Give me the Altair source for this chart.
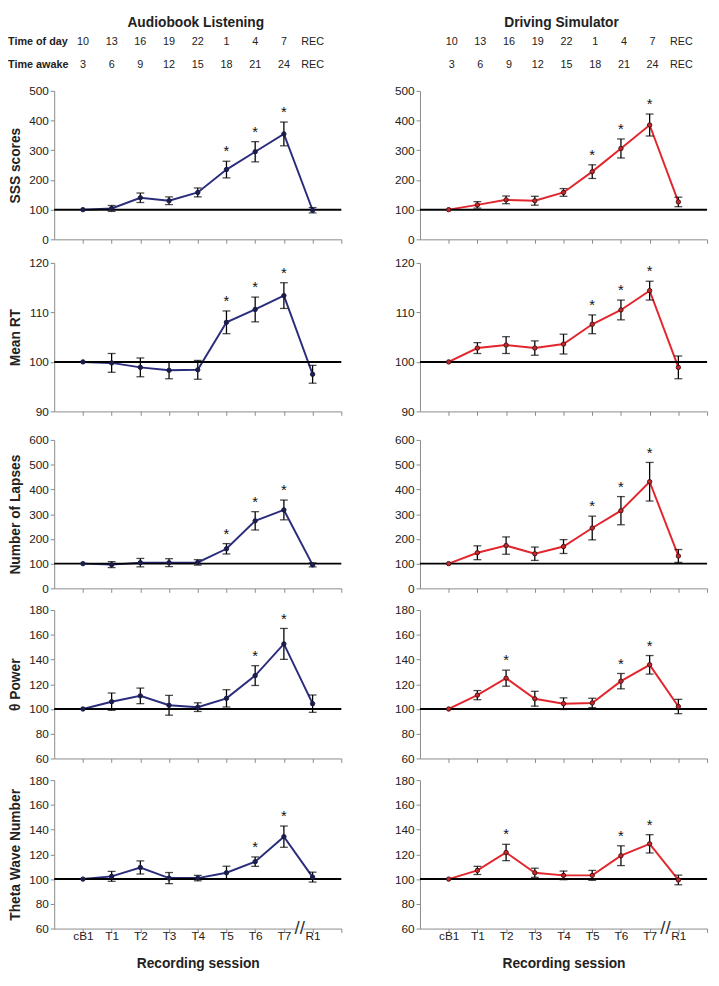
import json
import altair as alt
import pandas as pd

sessions = ["cB1", "T1", "T2", "T3", "T4", "T5", "T6", "T7", "R1"]
time_of_day = ["10", "13", "16", "19", "22", "1", "4", "7", "REC"]
time_awake = ["3", "6", "9", "12", "15", "18", "21", "24", "REC"]

# Audiobook listening
sss_a = [100, 104, 140, 130, 158, 235, 295, 355, 98]
sss_a_err = [0, 10, 16, 13, 15, 28, 34, 40, 9]
rt_a = [100, 99.8, 98.9, 98.3, 98.4, 108.0, 110.6, 113.4, 97.5]
rt_a_err = [0, 1.9, 1.9, 1.7, 1.9, 2.3, 2.5, 2.6, 1.8]
lap_a = [100, 96, 104, 104, 105, 160, 273, 317, 95]
lap_a_err = [0, 12, 17, 16, 11, 21, 37, 40, 8]
thp_a = [100, 105.9, 110.6, 103, 101.5, 108.6, 127, 152.6, 104.3]
thp_a_err = [0, 7, 6.3, 8, 3.5, 7, 8, 12.5, 7]
twn_a = [100, 102.2, 109.4, 100.8, 100.8, 105.1, 114.1, 134.3, 101.6]
twn_a_err = [0, 4, 5.3, 4.5, 2.2, 5.3, 3.8, 8.6, 4]

# Driving simulator
sss_d = [100, 116, 133, 130, 158, 228, 306, 385, 126]
sss_d_err = [0, 11, 13, 15, 13, 23, 32, 37, 16]
rt_d = [100, 102.8, 103.4, 102.8, 103.6, 107.6, 110.5, 114.4, 98.9]
rt_d_err = [0, 1.1, 1.7, 1.45, 2.0, 1.9, 2.0, 1.9, 2.3]
lap_d = [100, 144, 173, 140, 169, 244, 314, 431, 131]
lap_d_err = [0, 28, 35, 27, 28, 48, 57, 78, 26]
thp_d = [100, 111.2, 124.9, 108.3, 104.3, 104.9, 122.5, 135.7, 102]
thp_d_err = [0, 3.7, 6.5, 6, 4.7, 3.8, 6.2, 7.5, 5.8]
twn_d = [100, 107, 121.5, 105.1, 103, 103, 118.9, 128.5, 99.3]
twn_d_err = [0, 3.3, 6.6, 3.7, 3.5, 4, 8, 7.4, 3.9]

sig_late = [0, 0, 0, 0, 0, 1, 1, 1, 0]
sig_t67 = [0, 0, 0, 0, 0, 0, 1, 1, 0]
sig_t267 = [0, 0, 1, 0, 0, 0, 1, 1, 0]

W = 292
H = 151
NAVY = "#2b2d7c"
NAVY_PT = "#1c1d4a"
RED = "#e3262d"
RED_PT = "#c8282e"
RED_STROKE = "#4a1414"
FONT = "Liberation Sans"
AXIS_GREY = "#8a8a8a"

label_expr = ("datum.value >= 1 && datum.value <= 9 ? "
              + json.dumps(sessions) + "[datum.value - 1] : ''")


def panel(vals, errs, sigs, ytitle, domain, ticks, color, ptfill, ptstroke, bottom):
    df = pd.DataFrame({"pos": list(range(1, 10)), "session": sessions,
                       "v": vals, "e": errs, "sig": sigs})
    df["lo"] = df["v"] - df["e"]
    df["hi"] = df["v"] + df["e"]
    eb = df[df["e"] > 0]
    caps = pd.concat([eb[["pos", "lo"]].rename(columns={"lo": "c"}),
                      eb[["pos", "hi"]].rename(columns={"hi": "c"})])
    sig = df[df["sig"] == 1]

    xscale = alt.Scale(domain=[0, 10], nice=False, zero=False)
    yscale = alt.Scale(domain=domain, nice=False, zero=False)
    xaxis = alt.Axis(values=list(range(1, 11)), labelExpr=label_expr,
                     labels=bottom, title="Recording session" if bottom else None,
                     tickSize=4, labelPadding=-2, titlePadding=16,
                     labelOverlap=False, labelFlush=False,
                     domainColor=AXIS_GREY, tickColor=AXIS_GREY)
    yaxis = alt.Axis(values=ticks, title=ytitle, tickSize=4, labelPadding=2,
                     titlePadding=6, labelOverlap=False, labelFlush=False,
                     domainColor=AXIS_GREY, tickColor=AXIS_GREY)

    def X(f):
        return alt.X(f, scale=xscale, axis=xaxis)

    def Y(f):
        return alt.Y(f, scale=yscale, axis=yaxis)

    base = alt.Chart(df)
    layers = []
    layers.append(base.mark_line(color=color, strokeWidth=2).encode(
        x=X("pos:Q"), y=Y("v:Q")))
    layers.append(alt.Chart(pd.DataFrame({"pos": [0, 10], "b": [100, 100]})).mark_line(
        color="black", strokeWidth=2).encode(x=X("pos:Q"), y=Y("b:Q")))
    layers.append(alt.Chart(eb).mark_rule(color="black", strokeWidth=1.3).encode(
        x=X("pos:Q"), y=Y("lo:Q"), y2="hi:Q"))
    layers.append(alt.Chart(caps).mark_tick(orient="horizontal", size=8, thickness=1.3,
                                            color="black").encode(x=X("pos:Q"), y=Y("c:Q")))
    layers.append(base.mark_point(shape="circle", size=20, filled=False, fill=ptfill,
                                  fillOpacity=1, stroke=ptstroke, strokeWidth=1,
                                  opacity=1).encode(x=X("pos:Q"), y=Y("v:Q")))
    layers.append(alt.Chart(sig).mark_text(text="*", fontSize=15, dy=-10,
                                           color="#111", baseline="middle").encode(
        x=X("pos:Q"), y=Y("hi:Q")))
    if bottom:
        gap = pd.DataFrame({"g1": [8.42], "g2": [8.68], "gy": [domain[0]]})
        layers.append(alt.Chart(gap).mark_rule(color="white", strokeWidth=3).encode(
            x=X("g1:Q"), x2="g2:Q", y=Y("gy:Q")))
        brk = pd.DataFrame({"bx": [8.55], "by": [domain[0]]})
        layers.append(alt.Chart(brk).mark_text(text="//", fontSize=19, color="#333",
                                               baseline="middle").encode(
            x=X("bx:Q"), y=Y("by:Q")))
    return alt.layer(*layers).properties(width=W, height=H)


def header(title, show_row_titles, dx):
    df = pd.DataFrame({"pos": list(range(1, 10)), "tod": time_of_day, "ta": time_awake})
    xs = alt.X("pos:Q", scale=alt.Scale(domain=[0, 10], nice=False, zero=False), axis=None)
    base = alt.Chart(df)
    layers = [
        alt.Chart(pd.DataFrame({"t": [title]})).mark_text(
            fontSize=14, fontWeight="bold", baseline="top", align="center", color="#222"
        ).encode(text="t:N", x=alt.value(W / 2 - 2), y=alt.value(0)),
        base.mark_text(fontSize=11, baseline="middle", color="#222", dx=dx).encode(
            x=xs, y=alt.value(26), text="tod:N"),
        base.mark_text(fontSize=11, baseline="middle", color="#222", dx=dx).encode(
            x=xs, y=alt.value(50), text="ta:N"),
    ]
    if show_row_titles:
        rt = pd.DataFrame({"lab": ["Time of day", "Time awake"], "yy": [26, 50]})
        layers.append(alt.Chart(rt).mark_text(
            fontSize=11, fontWeight="bold", baseline="middle", align="left", color="#222"
        ).encode(x=alt.value(-47), y=alt.Y("yy:Q", scale=None), text="lab:N"))
    return alt.layer(*layers).properties(width=W, height=60)


def column(title, data, color, ptfill, ptstroke, with_titles, show_row_titles, dx):
    specs = [
        ("SSS scores", [0, 500], [0, 100, 200, 300, 400, 500]),
        ("Mean RT", [90, 120], [90, 100, 110, 120]),
        ("Number of Lapses", [0, 600], [0, 100, 200, 300, 400, 500, 600]),
        ("θ Power", [60, 180], [60, 80, 100, 120, 140, 160, 180]),
        ("Theta Wave Number", [60, 180], [60, 80, 100, 120, 140, 160, 180]),
    ]
    panels = []
    for i, ((yt, dom, tk), (v, e, s)) in enumerate(zip(specs, data)):
        panels.append(panel(v, e, s, yt if with_titles else None, dom, tk,
                            color, ptfill, ptstroke, bottom=(i == 4)))
    g1 = alt.vconcat(panels[0], panels[1], spacing=12)
    g2 = alt.vconcat(panels[2], panels[3], panels[4], spacing=10)
    body = alt.vconcat(g1, g2, spacing=17)
    return alt.vconcat(header(title, show_row_titles, dx), body, spacing=10)


left = column("Audiobook Listening",
              [(sss_a, sss_a_err, sig_late), (rt_a, rt_a_err, sig_late),
               (lap_a, lap_a_err, sig_late), (thp_a, thp_a_err, sig_t67),
               (twn_a, twn_a_err, sig_t67)],
              NAVY, NAVY_PT, NAVY_PT, True, True, 0)
right = column("Driving Simulator",
               [(sss_d, sss_d_err, sig_late), (rt_d, rt_d_err, sig_late),
                (lap_d, lap_d_err, sig_late), (thp_d, thp_d_err, sig_t267),
                (twn_d, twn_d_err, sig_t267)],
               RED, RED_PT, RED_STROKE, False, False, 3)

chart = alt.hconcat(left, right, spacing=49).properties(
    padding={"left": 0, "top": 0, "right": 0, "bottom": 0}
).configure(font=FONT).configure_view(stroke=None).configure_axis(
    grid=False, labelFont=FONT, labelFontSize=12, labelColor="#222",
    titleFont=FONT, titleFontSize=14, titleFontWeight="bold", titleColor="#222",
    labelOverlap=False
)

chart.save("out.html", embed_options={"renderer": "svg", "actions": False})
